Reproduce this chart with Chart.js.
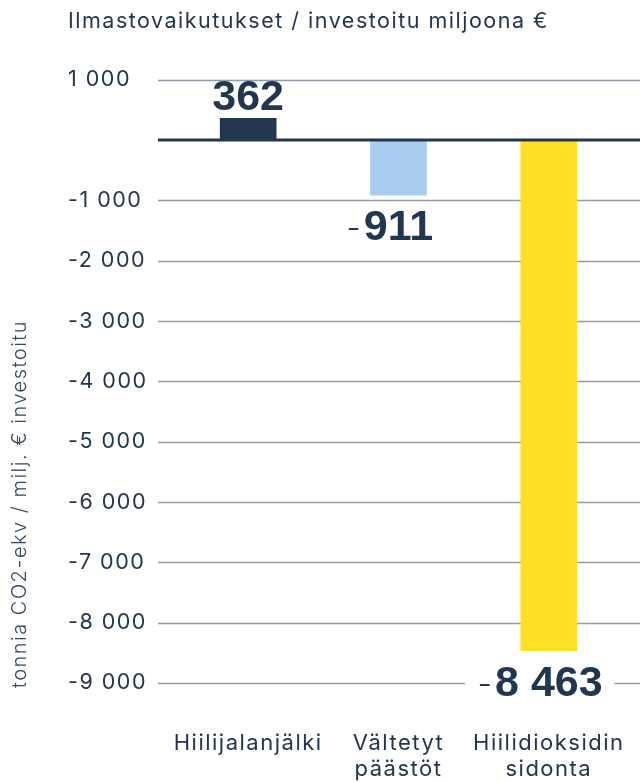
<!DOCTYPE html>
<html>
<head>
<meta charset="utf-8">
<script src="https://cdn.jsdelivr.net/npm/chart.js@4"></script>
<style>
  html, body { margin: 0; padding: 0; background: #fff; }
  #wrap { width: 640px; height: 782px; }
</style>
</head>
<body>
<div id="wrap"><canvas id="chart"></canvas></div>
<script>
const categories = [['Hiilijalanjälki'], ['Vältetyt', 'päästöt'], ['Hiilidioksidin', 'sidonta']];
const values = [362, -911, -8463];
const barColors = ['#22364f', '#a9cdee', '#ffe024'];
const yMin = -9000;
const yMax = 1000;
const yStep = 1000;

const ink = '#22364f';
const gridColor = '#939daa';
const spacing = '1.5px';

// 1 000 / -8 463
function fmt(n) {
    const s = Math.abs(n).toString().replace(/\B(?=(\d{3})+(?!\d))/g, ' ');
    return (n < 0 ? '-' : '') + s;
}

// Kirjainväli kaikille teksteille
const spacingPlugin = {
    id: 'spacing',
    beforeUpdate(chart) { chart.ctx.letterSpacing = spacing; },
    beforeDraw(chart) { chart.ctx.letterSpacing = spacing; }
};

// Vaakaviivat koko leveydelle, nollaviiva palkkien päälle
const gridPlugin = {
    id: 'gridLines',
    beforeDatasetsDraw(chart) {
        const { ctx, scales: { y } } = chart;
        ctx.save();
        ctx.strokeStyle = gridColor;
        ctx.lineWidth = 1.5;
        y.ticks.forEach(t => {
            if (t.value === 0) return;
            const py = Math.round(y.getPixelForValue(t.value)) + 0.5;
            ctx.beginPath();
            ctx.moveTo(y.left + 90, py);
            ctx.lineTo(chart.width, py);
            ctx.stroke();
        });
        ctx.restore();
    },
    afterDatasetsDraw(chart) {
        const { ctx, scales: { y } } = chart;
        const py = y.getPixelForValue(0);
        ctx.save();
        ctx.strokeStyle = ink;
        ctx.lineWidth = 3;
        ctx.beginPath();
        ctx.moveTo(y.left + 90, py);
        ctx.lineTo(chart.width, py);
        ctx.stroke();
        ctx.restore();
    }
};

// Arvot palkkien yläpuolelle / alapuolelle
const valuePlugin = {
    id: 'valueLabels',
    afterDatasetsDraw(chart) {
        const { ctx } = chart;
        const meta = chart.getDatasetMeta(0);
        ctx.save();
        ctx.letterSpacing = '0px';
        meta.data.forEach((bar, i) => {
            const v = values[i];
            const num = fmt(Math.abs(v));
            ctx.font = 'bold 43px "Liberation Sans", Arial, sans-serif';
            const w = ctx.measureText(num).width;
            const left = bar.x - w / 2;
            const base = v >= 0 ? bar.y - 8 : bar.y + 45;
            if (v < 0) {
                ctx.fillStyle = '#fff';
                ctx.fillRect(left - 30, base - 36, w + 42, 46);
            }
            ctx.fillStyle = ink;
            ctx.textAlign = 'center';
            ctx.textBaseline = 'alphabetic';
            ctx.fillText(num, bar.x, base);
            if (v < 0) {
                ctx.font = '300 32px Inter, sans-serif';
                ctx.textAlign = 'right';
                ctx.fillText('-', left - 3, base - 1);
            }
        });
        ctx.restore();
    }
};

// Pystyakselin otsikko
const yTitlePlugin = {
    id: 'yTitle',
    afterDraw(chart) {
        const { ctx } = chart;
        ctx.save();
        ctx.translate(20, 504);
        ctx.rotate(-Math.PI / 2);
        ctx.font = '300 20px Inter, sans-serif';
        ctx.fillStyle = '#33475e';
        ctx.textAlign = 'center';
        ctx.textBaseline = 'middle';
        ctx.fillText('tonnia CO2-ekv / milj. € investoitu', 0, 0);
        ctx.restore();
    }
};

new Chart(document.getElementById('chart').getContext('2d'), {
    type: 'bar',
    data: {
        labels: categories,
        datasets: [{
            data: values,
            backgroundColor: barColors,
            borderWidth: 0,
            barThickness: 56
        }]
    },
    options: {
        responsive: true,
        maintainAspectRatio: false,
        animation: false,
        layout: { padding: { left: 68, right: 16, top: 0, bottom: 0 } },
        plugins: {
            legend: { display: false },
            tooltip: { enabled: false },
            title: {
                display: true,
                text: 'Ilmastovaikutukset / investoitu miljoona €',
                align: 'start',
                color: ink,
                font: { family: 'Inter', size: 21.5, weight: 'normal' },
                padding: { top: 9, bottom: 45 }
            }
        },
        scales: {
            y: {
                min: yMin,
                max: yMax,
                ticks: {
                    stepSize: yStep,
                    crossAlign: 'far',
                    color: ink,
                    font: { family: 'Inter', size: 21.5 },
                    callback: v => (v === 0 ? '' : fmt(v))
                },
                grid: { display: false, drawTicks: false },
                border: { display: false },
                afterFit: s => { s.width = 105; }
            },
            x: {
                ticks: {
                    color: ink,
                    padding: 47,
                    maxRotation: 0,
                    autoSkip: false,
                    font: { family: 'Inter', size: 22, lineHeight: 1.2 }
                },
                grid: { display: false, drawTicks: false },
                border: { display: false },
                afterFit: s => {
                    s.height = 99;
                    s.paddingLeft = 0;
                    s.paddingRight = 0;
                }
            }
        }
    },
    plugins: [spacingPlugin, gridPlugin, valuePlugin, yTitlePlugin]
});
</script>
</body>
</html>
